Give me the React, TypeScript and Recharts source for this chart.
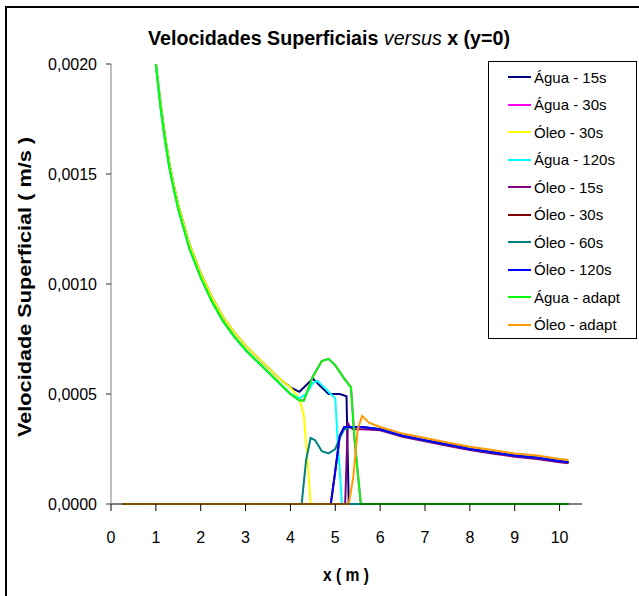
import { LineChart, Line, XAxis, YAxis } from 'recharts';

const FONT = '"Liberation Sans", Arial, sans-serif';

const xTicks = [0, 1, 2, 3, 4, 5, 6, 7, 8, 9, 10];
const yTicks = [0, 0.0005, 0.001, 0.0015, 0.002];

// water curves: common decay from x = 1 to x = 4
const decayX = [1.0, 1.1, 1.2, 1.3, 1.4, 1.5, 1.75, 2.0, 2.25, 2.5, 2.75, 3.0, 3.25, 3.5, 3.75, 4.0];
const aguaDecay = [0.002, 0.00183, 0.00168, 0.00155, 0.00145, 0.00136, 0.00118, 0.00105, 0.00094, 0.00085, 0.00078, 0.00072, 0.00067, 0.00062, 0.00057, 0.00053];
const adaptDecay = [0.002, 0.00181, 0.00166, 0.00153, 0.00143, 0.00134, 0.00116, 0.00103, 0.00092, 0.00083, 0.00076, 0.0007, 0.00065, 0.0006, 0.00055, 0.0005];

// water fronts
const agua15X = [4.2, 4.35, 4.5, 4.65, 4.85, 5.1, 5.25, 5.3, 10.2];
const agua15V = [0.00051, 0.00054, 0.00057, 0.00054, 0.0005, 0.0005, 0.00049, 0, 0];
const oleo30wX = [4.2, 4.3, 4.38, 4.45, 10.2];
const oleo30wV = [0.00048, 0.0004, 0.0002, 0, 0];
const agua120X = [4.2, 4.35, 4.5, 4.6, 4.75, 4.9, 5.0, 5.05, 5.15, 10.2];
const agua120V = [0.00048, 0.0005, 0.00055, 0.00056, 0.00053, 0.0005, 0.00048, 0.0003, 0, 0];
const adaptX = [4.2, 4.3, 4.5, 4.7, 4.85, 5.0, 5.2, 5.35, 5.43, 5.57, 10.2];
const adaptV = [0.00047, 0.00047, 0.00058, 0.00065, 0.00066, 0.00063, 0.00057, 0.00053, 0.00029, 0, 0];

// oil curves: zero ahead of the front, then the tail
const tailX = [6.0, 6.5, 7.0, 7.5, 8.0, 8.5, 9.0, 9.5, 10.0, 10.2];
const oleoAdaptTail = [0.00035, 0.00032, 0.0003, 0.00028, 0.00026, 0.000245, 0.00023, 0.00022, 0.000205, 0.0002];
const oleoTail = [0.00034, 0.00031, 0.00029, 0.00027, 0.00025, 0.000235, 0.00022, 0.00021, 0.000195, 0.00019];
const oleo15Tail = [0.000335, 0.000305, 0.000285, 0.000265, 0.000245, 0.00023, 0.000215, 0.000205, 0.00019, 0.000185];

const oleo15X = [0.25, 5.22, 5.28, 5.32, 5.4, 5.6];
const oleo15V = [0, 0, 0.00037, 0.00035, 0.00034, 0.00034];
const oleo30X = [0.25, 4.9, 5.0, 5.1, 5.2, 5.35, 5.6];
const oleo30V = [0, 0, 0.00015, 0.00031, 0.00035, 0.00035, 0.00035];
const oleo60X = [0.25, 4.25, 4.35, 4.45, 4.55, 4.7, 4.85, 5.0, 5.1, 5.2, 5.35, 5.6];
const oleo60V = [0, 0, 0.0002, 0.0003, 0.00029, 0.00024, 0.00023, 0.00025, 0.0003, 0.00034, 0.00035, 0.00035];
const oleo120X = [0.25, 4.9, 5.0, 5.1, 5.2, 5.35, 5.6];
const oleo120V = [0, 0, 0.00015, 0.00031, 0.00035, 0.00035, 0.00035];
const oleoAdaptX = [0.25, 5.3, 5.4, 5.5, 5.6, 5.75];
const oleoAdaptV = [0, 0, 0.00012, 0.00034, 0.0004, 0.00037];

const pts = (xs: number[], ys: number[]) => xs.map((x, i) => ({ x, y: ys[i] }));

const series = [
  { name: 'Água - 15s', color: '#000080', data: [...pts(decayX, aguaDecay), ...pts(agua15X, agua15V)] },
  { name: 'Água - 30s', color: '#FF00FF', data: [...pts(decayX, adaptDecay), ...pts(adaptX, adaptV)] },
  { name: 'Óleo - 30s', color: '#FFFF00', data: [...pts(decayX, aguaDecay), ...pts(oleo30wX, oleo30wV)] },
  { name: 'Água - 120s', color: '#00FFFF', data: [...pts(decayX, adaptDecay), ...pts(agua120X, agua120V)] },
  { name: 'Óleo - 15s', color: '#800080', data: [...pts(oleo15X, oleo15V), ...pts(tailX, oleo15Tail)] },
  { name: 'Óleo - 30s', color: '#800000', data: [...pts(oleo30X, oleo30V), ...pts(tailX, oleoTail)] },
  { name: 'Óleo - 60s', color: '#008080', data: [...pts(oleo60X, oleo60V), ...pts(tailX, oleoTail)] },
  { name: 'Óleo - 120s', color: '#0000FF', data: [...pts(oleo120X, oleo120V), ...pts(tailX, oleoTail)] },
  { name: 'Água - adapt', color: '#00FF00', data: [...pts(decayX, adaptDecay), ...pts(adaptX, adaptV)] },
  { name: 'Óleo - adapt', color: '#FF9900', data: [...pts(oleoAdaptX, oleoAdaptV), ...pts(tailX, oleoAdaptTail)] },
];

const fmtY = (v: number) => v.toFixed(4).replace('.', ',');

function LegendBox() {
  return (
    <div style={{ position: 'absolute', left: 488, top: 61, width: 149, height: 278, border: '1px solid #000', background: '#fff', boxSizing: 'border-box', fontFamily: FONT }}>
      {series.map((s, i) => (
        <div key={i} style={{ position: 'absolute', left: 19, top: 4 + i * 27.5, height: 22, display: 'flex', alignItems: 'center', whiteSpace: 'nowrap' }}>
          <span style={{ display: 'inline-block', width: 23, height: 2, background: s.color }} />
          <span style={{ marginLeft: 3, fontSize: 15, color: '#000' }}>{s.name}</span>
        </div>
      ))}
    </div>
  );
}

export default function App() {
  return (
    <div style={{ position: 'absolute', left: 0, top: 0, width: 639, height: 596, overflow: 'hidden', background: '#fff' }}>
      <div style={{ position: 'absolute', left: 5, top: 6, width: 700, height: 700, border: '2px solid #000' }} />
      <LineChart width={639} height={596} margin={{ top: 64, right: 57, bottom: 0, left: 0 }}>
        <XAxis
          type="number"
          dataKey="x"
          domain={[0, 10.5]}
          ticks={xTicks}
          height={92}
          stroke="#000"
          tickSize={7}
          tickMargin={21}
          tick={{ fill: '#000', fontSize: 16, fontFamily: FONT }}
        />
        <YAxis
          type="number"
          dataKey="y"
          domain={[0, 0.002]}
          ticks={yTicks}
          width={111}
          stroke="#808080"
          tickLine={{ stroke: '#333' }}
          tickSize={5}
          tickMargin={9}
          tickFormatter={fmtY}
          tick={{ fill: '#000', fontSize: 16, fontFamily: FONT }}
        />
        {series.map((s, i) => (
          <Line
            key={i}
            data={s.data}
            dataKey="y"
            name={s.name}
            type="linear"
            stroke={s.color}
            strokeWidth={2}
            dot={false}
            activeDot={false}
            isAnimationActive={false}
          />
        ))}
      </LineChart>
      <LegendBox />
      <svg width={639} height={596} style={{ position: 'absolute', left: 0, top: 0, pointerEvents: 'none', fontFamily: FONT }}>
        <text x={329} y={45} textAnchor="middle" fontSize={20} fontWeight="bold" textLength={362} lengthAdjust="spacingAndGlyphs">
          Velocidades Superficiais <tspan fontStyle="italic" fontWeight="normal">versus</tspan> x (y=0)
        </text>
        <text x={346} y={581} textAnchor="middle" fontSize={18} fontWeight="bold" textLength={46} lengthAdjust="spacingAndGlyphs">
          x ( m )
        </text>
        <text transform="translate(31, 287) rotate(-90)" x={0} y={0} textAnchor="middle" fontSize={18} fontWeight="bold" textLength={300} lengthAdjust="spacingAndGlyphs">
          Velocidade Superficial ( m/s )
        </text>
      </svg>
    </div>
  );
}
